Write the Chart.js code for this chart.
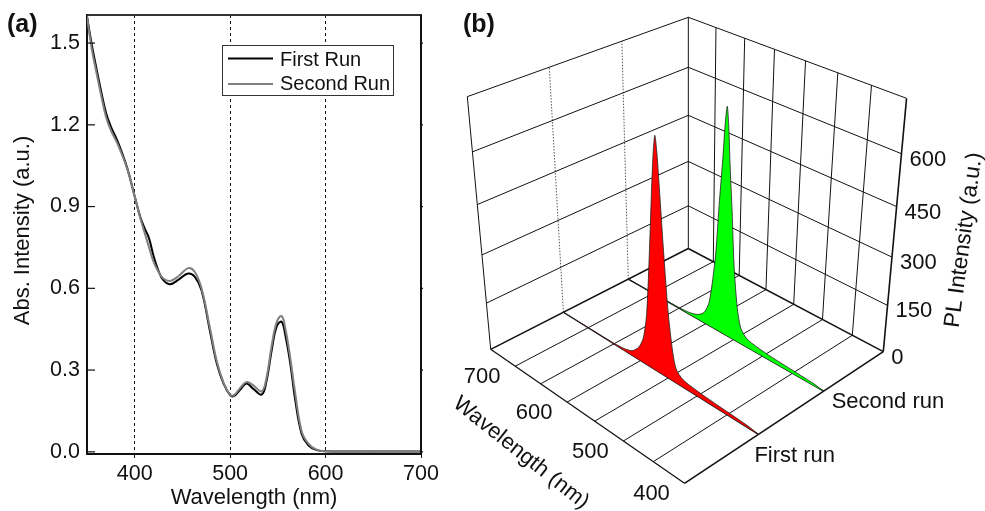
<!DOCTYPE html>
<html>
<head>
<meta charset="utf-8">
<title>Absorption and PL runs</title>
<script src="https://cdn.jsdelivr.net/npm/chart.js@4/dist/chart.umd.min.js"></script>
<style>
    body { margin: 0; background: #fff; }
    #wrap { position: relative; width: 985px; height: 511px; overflow: hidden; }
    canvas { position: absolute; top: 0; }
    #absChart { left: 0; }
    #plChart { left: 445px; }
</style>
</head>
<body>
<div id="wrap">
    <canvas id="absChart" width="445" height="511"></canvas>
    <canvas id="plChart" width="540" height="511"></canvas>
</div>
<script>
// Panel (a) values
const absWavelengths = [350, 355, 360, 365, 370, 375, 382, 392, 400, 406, 411, 415, 420, 425, 430, 437, 446, 456, 463, 470, 479, 486, 493, 500, 504, 510, 517, 524, 533, 538, 544, 549, 554, 558, 563, 568, 575, 582, 590, 600, 650, 700];
const firstRunAbs = [1.598, 1.494, 1.405, 1.32, 1.243, 1.193, 1.14, 1.043, 0.937, 0.86, 0.815, 0.784, 0.715, 0.663, 0.63, 0.615, 0.632, 0.654, 0.642, 0.593, 0.44, 0.324, 0.251, 0.208, 0.205, 0.226, 0.251, 0.232, 0.21, 0.258, 0.383, 0.462, 0.477, 0.425, 0.325, 0.195, 0.065, 0.024, 0.007, 0.002, 0.001, 0.001];
const secondRunAbs = [1.598, 1.478, 1.39, 1.305, 1.228, 1.18, 1.13, 1.04, 0.937, 0.855, 0.797, 0.75, 0.695, 0.66, 0.636, 0.627, 0.645, 0.674, 0.66, 0.60, 0.452, 0.332, 0.255, 0.21, 0.208, 0.232, 0.256, 0.245, 0.222, 0.27, 0.40, 0.478, 0.498, 0.45, 0.345, 0.22, 0.075, 0.03, 0.009, 0.002, 0.002, 0.001];
const absXTicks = [400, 500, 600, 700];
const absYTicks = [0, 0.3, 0.6, 0.9, 1.2, 1.5];

// Panel (b) values
const firstRunWaves = [750, 700, 650, 630, 615, 603, 594, 587, 580, 575, 571, 568, 565, 561, 556, 549, 542, 536, 524, 493, 453, 418, 400];
const firstRunPL = [0, 1, 2, 6, 16, 40, 80, 165, 365, 535, 650, 695, 650, 535, 385, 205, 95, 45, 24, 15, 10, 6, 0];
const secondRunWaves = [750, 700, 650, 630, 615, 603, 594, 584, 579, 574, 571, 568, 565, 562, 557, 552, 545, 538, 526, 493, 453, 418, 400];
const secondRunPL = [0, 1, 2, 6, 15, 35, 80, 238, 397, 535, 635, 690, 635, 535, 397, 238, 110, 50, 26, 15, 10, 6, 0];
const plWaveGrid = [450, 500, 550, 600, 650, 700];
const plWaveLabels = [400, 500, 600, 700];
const plIntensityGrid = [150, 300, 450, 600];
const runDepth = [0.66, 0.33]; // first run, second run, 0 = back wall, 1 = front edge

Chart.defaults.font.family = '"Liberation Sans", Arial, sans-serif';
Chart.defaults.color = '#111';
Chart.defaults.animation = false;

// Frame of the 3D box on the page
const floorBack = [688.3, 248.5];
const floorRight = [883.3, 351.7];
const floorFront = [684.5, 483.3];
const floorLeft = [490.7, 349.3];
const vanish = [688, 2480];
const boxTopY = 17.3;
const waveMin = 400, waveMax = 750, plMax = 750;

// square to quad homography for the floor
function floorMap(p0, p1, p2, p3) {
    const dx1 = p1[0] - p2[0], dx2 = p3[0] - p2[0], sx = p0[0] - p1[0] + p2[0] - p3[0];
    const dy1 = p1[1] - p2[1], dy2 = p3[1] - p2[1], sy = p0[1] - p1[1] + p2[1] - p3[1];
    const den = dx1 * dy2 - dx2 * dy1;
    const g = (sx * dy2 - dx2 * sy) / den;
    const h = (dx1 * sy - sx * dy1) / den;
    return {
        g: g, h: h,
        a: p1[0] - p0[0] + g * p1[0], b: p3[0] - p0[0] + h * p3[0], c: p0[0],
        d: p1[1] - p0[1] + g * p1[1], e: p3[1] - p0[1] + h * p3[1], f: p0[1]
    };
}
const fm = floorMap(floorBack, floorRight, floorFront, floorLeft);
const heightK = 1 / ((boxTopY - vanish[1]) / (floorBack[1] - vanish[1])) - 1;

function project(wave, depth, pl) {
    const u = (waveMax - wave) / (waveMax - waveMin);
    const w = fm.g * u + fm.h * depth + 1;
    const x0 = (fm.a * u + fm.b * depth + fm.c) / w;
    const y0 = (fm.d * u + fm.e * depth + fm.f) / w;
    const s = w / (w + heightK * pl / plMax);
    return { x: vanish[0] + (x0 - vanish[0]) * s, y: vanish[1] + (y0 - vanish[1]) * s };
}

function gridLine(a, b, width, color, dash) {
    return {
        data: [project(a[0], a[1], a[2]), project(b[0], b[1], b[2])],
        showLine: true, pointRadius: 0, borderColor: color || '#111', borderWidth: width,
        borderDash: dash || [], order: 10, fill: false, tension: 0
    };
}

function peakSet(waves, values, depth, color) {
    return {
        data: waves.map((wl, i) => project(wl, depth, values[i])),
        showLine: true, pointRadius: 0, borderColor: '#222', borderWidth: 0.8,
        backgroundColor: color, fill: 'shape', order: 1, tension: 0.25
    };
}

const boxSets = [];
// floor and wall outline
boxSets.push(gridLine([750, 0, 0], [400, 0, 0], 1.5));
boxSets.push(gridLine([400, 0, 0], [400, 1, 0], 1.6));
boxSets.push(gridLine([400, 1, 0], [750, 1, 0], 1.3));
boxSets.push(gridLine([750, 1, 0], [750, 0, 0], 1.5));
boxSets.push(gridLine([750, 0, 0], [750, 0, plMax], 1));
boxSets.push(gridLine([750, 1, 0], [750, 1, plMax], 1));
boxSets.push(gridLine([400, 0, 0], [400, 0, plMax], 1.6));
boxSets.push(gridLine([750, 1, plMax], [750, 0, plMax], 1));
boxSets.push(gridLine([750, 0, plMax], [400, 0, plMax], 1));
// wavelength lines across the floor and up the back wall
plWaveGrid.forEach(function (wl) {
    boxSets.push(gridLine([wl, 1, 0], [wl, 0, 0], 1));
    boxSets.push(gridLine([wl, 0, 0], [wl, 0, plMax], 1));
});
// intensity lines on both walls
plIntensityGrid.forEach(function (pl) {
    boxSets.push(gridLine([750, 1, pl], [750, 0, pl], 1));
    boxSets.push(gridLine([750, 0, pl], [400, 0, pl], 1));
});
// run lines
runDepth.forEach(function (d) {
    boxSets.push(gridLine([750, d, 0], [400, d, 0], 1.3));
    boxSets.push(gridLine([750, d, 0], [750, d, plMax], 1, '#555', [1.5, 1.5]));
});

// Box, inward ticks and legend of panel (a)
const absFrame = {
    id: 'absFrame',
    afterDraw(chart) {
        const c = chart.ctx, a = chart.chartArea, yS = chart.scales.y;
        c.save();
        c.strokeStyle = '#333';
        c.lineWidth = 2;
        c.beginPath(); c.moveTo(a.left, a.top); c.lineTo(a.right + 1, a.top); c.stroke();
        c.strokeStyle = '#111';
        c.beginPath(); c.moveTo(a.right, a.top); c.lineTo(a.right, a.bottom); c.stroke();
        c.lineWidth = 1.2;
        absYTicks.forEach(function (v) {
            const y = yS.getPixelForValue(v);
            c.beginPath(); c.moveTo(a.left, y); c.lineTo(a.left + 8, y); c.stroke();
            c.beginPath(); c.moveTo(a.right, y); c.lineTo(a.right + 2, y); c.stroke();
        });
        // legend
        c.fillStyle = '#fff';
        c.fillRect(222.5, 45.5, 171, 50);
        c.strokeStyle = '#333';
        c.lineWidth = 1;
        c.strokeRect(222.5, 45.5, 171, 50);
        c.lineWidth = 1.8;
        c.strokeStyle = '#000';
        c.beginPath(); c.moveTo(228, 58.5); c.lineTo(273, 58.5); c.stroke();
        c.strokeStyle = '#808080';
        c.beginPath(); c.moveTo(228, 84); c.lineTo(273, 84); c.stroke();
        c.fillStyle = '#111';
        c.font = '20px "Liberation Sans"';
        c.textBaseline = 'middle';
        c.fillText('First Run', 280, 60);
        c.fillText('Second Run', 280, 84);
        c.font = 'bold 25px "Liberation Sans"';
        c.fillText('(a)', 7, 25);
        // y title sits a little above the middle of the axis
        c.save();
        c.translate(23, 230.5);
        c.rotate(-Math.PI / 2);
        c.textAlign = 'center';
        c.font = '22px "Liberation Sans"';
        c.fillText('Abs. Intensity (a.u.)', 0, 0);
        c.restore();
        c.restore();
    }
};

// Text of panel (b), the canvas sits 445px from the page edge
const plLabels = {
    id: 'plLabels',
    afterDraw(chart) {
        const c = chart.ctx;
        c.save();
        c.fillStyle = '#111';
        c.textBaseline = 'middle';
        c.font = '22px "Liberation Sans"';
        const xS = chart.scales.x, yS = chart.scales.y;
        function text(str, px, py, align, rot) {
            c.save();
            c.translate(xS.getPixelForValue(px), yS.getPixelForValue(py));
            if (rot) c.rotate(rot * Math.PI / 180);
            c.textAlign = align;
            c.fillText(str, 0, 0);
            c.restore();
        }
        plWaveLabels.forEach(function (wl) {
            const p = project(wl, 1, 0);
            text(String(wl), p.x - 33, p.y + 11, 'center');
        });
        [0].concat(plIntensityGrid).forEach(function (pl) {
            const p = project(400, 0, pl);
            text(String(pl), p.x + 8, p.y + 6, 'left');
        });
        const f = project(400, runDepth[0], 0), s = project(400, runDepth[1], 0);
        text('First run', f.x - 4, f.y + 22, 'left');
        text('Second run', s.x + 8, s.y + 11, 'left');
        text('Wavelength (nm)', 521, 453, 'center', 38.5);
        c.font = '22.5px "Liberation Sans"';
        text('PL Intensity (a.u.)', 964, 240, 'center', -82.4);
        c.font = 'bold 25px "Liberation Sans"';
        text('(b)', 463, 25, 'left');
        c.restore();
    }
};

new Chart(document.getElementById('absChart'), {
    type: 'scatter',
    data: {
        datasets: [
            {
                label: 'Second Run',
                data: absWavelengths.map((x, i) => ({ x: x, y: secondRunAbs[i] })),
                showLine: true, pointRadius: 0, borderColor: '#808080', borderWidth: 2,
                tension: 0.4
            },
            {
                label: 'First Run',
                data: absWavelengths.map((x, i) => ({ x: x, y: firstRunAbs[i] })),
                showLine: true, pointRadius: 0, borderColor: '#000', borderWidth: 2,
                tension: 0.4
            }
        ]
    },
    options: {
        responsive: false,
        layout: { padding: { top: 15, right: 24, left: 0, bottom: 0 } },
        plugins: { legend: { display: false }, tooltip: { enabled: false } },
        scales: {
            x: {
                type: 'linear', min: 350, max: 700,
                afterBuildTicks: function (s) { s.ticks = absXTicks.map(v => ({ value: v })); },
                afterFit: function (s) { s.height = 57; s.paddingLeft = 0; s.paddingRight = 0; },
                grid: { color: '#111', lineWidth: 1, drawTicks: true, tickLength: 4, tickColor: '#111' },
                border: { color: '#111', width: 2, dash: [3, 3] },
                ticks: { font: { size: 21.5 }, color: '#111', padding: 3, maxRotation: 0 },
                title: { display: true, text: 'Wavelength (nm)', font: { size: 22 }, color: '#111', padding: { top: 0, bottom: 0 } }
            },
            y: {
                type: 'linear', min: -0.008, max: 1.603,
                afterBuildTicks: function (s) { s.ticks = absYTicks.map(v => ({ value: v })); },
                afterFit: function (s) { s.width = 87; s.paddingTop = 0; s.paddingBottom = 0; },
                grid: { display: false, drawTicks: false },
                border: { color: '#111', width: 2 },
                ticks: { font: { size: 21.5 }, color: '#111', padding: 7, callback: v => v.toFixed(1) }
            }
        }
    },
    plugins: [absFrame]
});

new Chart(document.getElementById('plChart'), {
    type: 'scatter',
    data: {
        datasets: boxSets.concat([
            peakSet(firstRunWaves, firstRunPL, runDepth[0], '#ff0000'),
            peakSet(secondRunWaves, secondRunPL, runDepth[1], '#00ff00')
        ])
    },
    options: {
        responsive: false,
        layout: { padding: 0 },
        plugins: { legend: { display: false }, tooltip: { enabled: false } },
        scales: {
            x: { type: 'linear', min: 445, max: 985, display: false },
            y: { type: 'linear', min: 0, max: 511, reverse: true, display: false }
        }
    },
    plugins: [plLabels]
});
</script>
</body>
</html>
